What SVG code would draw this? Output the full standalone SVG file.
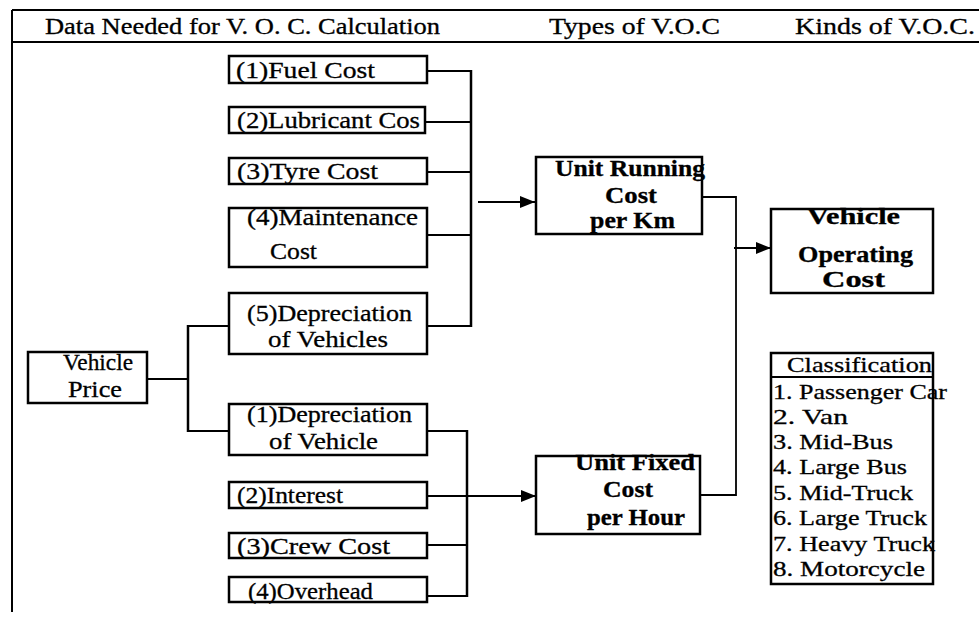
<svg xmlns="http://www.w3.org/2000/svg" width="979" height="619" viewBox="0 0 979 619">
<defs>
<style>
.bx{fill:#fff;stroke:#000;stroke-width:2.5}
.ln{fill:none;stroke:#000;stroke-width:1.8}
.bus{fill:none;stroke:#000;stroke-width:2.5}
.fr{fill:none;stroke:#000;stroke-width:2}
text{font-family:"Liberation Serif","Times New Roman",serif;fill:#000;stroke:#000;stroke-width:0.3}
.h{font-size:23px}
.t{font-size:23px}
.b{font-size:23px;font-weight:bold}
.c{font-size:22px}
</style>
<marker id="ar" markerWidth="16" markerHeight="12" refX="15" refY="6" orient="auto" markerUnits="userSpaceOnUse">
<path d="M0,0 L15,6 L0,12 Z" fill="#000"/>
</marker>
</defs>
<rect width="979" height="619" fill="#fff"/>
<g id="frame">
<path class="fr" d="M12,10 H979 M12,42 H979 M12,10 V612"/>
<text class="h" x="45" y="34" textLength="395" lengthAdjust="spacingAndGlyphs">Data Needed for V. O. C. Calculation</text>
<text class="h" x="549" y="34" textLength="171" lengthAdjust="spacingAndGlyphs">Types of V.O.C</text>
<text class="h" x="795" y="34" textLength="180" lengthAdjust="spacingAndGlyphs">Kinds of V.O.C.</text>
</g>
<g id="connectors">
<path class="ln" d="M427,71 H471 M425,122 H471 M427,172 H471 M427,235 H471 M427,326 H471"/>
<path class="bus" d="M471,70 V327"/>
<path class="ln" d="M478,202 H535" marker-end="url(#ar)"/>
<path class="ln" d="M147,379 H188 M188,326 H229 M188,431 H229"/>
<path class="bus" d="M188,325 V432"/>
<path class="ln" d="M427,431 H467 M427,545 H467 M427,596 H467"/>
<path class="bus" d="M467,430 V597"/>
<path class="ln" d="M427,496 H536" marker-end="url(#ar)"/>
<path class="ln" d="M702,197 H736 V495 H700"/>
<path class="ln" d="M734,248 H771" marker-end="url(#ar)"/>
</g>
<g id="fuel"><rect class="bx" x="229" y="56" width="198" height="27"/><text class="t" x="236" y="78" textLength="139" lengthAdjust="spacingAndGlyphs">(1)Fuel Cost</text></g>
<g id="lubricant"><rect class="bx" x="229" y="107" width="196" height="26"/><text class="t" x="237" y="128" textLength="183" lengthAdjust="spacingAndGlyphs">(2)Lubricant Cos</text></g>
<g id="tyre"><rect class="bx" x="229" y="158" width="198" height="26"/><text class="t" x="237" y="179" textLength="141" lengthAdjust="spacingAndGlyphs">(3)Tyre Cost</text></g>
<g id="maintenance"><rect class="bx" x="229" y="208" width="198" height="59"/><text class="t" x="247" y="225" textLength="171" lengthAdjust="spacingAndGlyphs">(4)Maintenance</text><text class="t" x="270" y="259" textLength="47" lengthAdjust="spacingAndGlyphs">Cost</text></g>
<g id="depreciation5"><rect class="bx" x="229" y="293" width="198" height="61"/><text class="t" x="247" y="321" textLength="165" lengthAdjust="spacingAndGlyphs">(5)Depreciation</text><text class="t" x="268" y="347" textLength="120" lengthAdjust="spacingAndGlyphs">of Vehicles</text></g>
<g id="vehicle-price"><rect class="bx" x="28" y="352" width="119" height="51"/><text class="t" x="63" y="370" textLength="70" lengthAdjust="spacingAndGlyphs">Vehicle</text><text class="t" x="68" y="397" textLength="54" lengthAdjust="spacingAndGlyphs">Price</text></g>
<g id="depreciation1"><rect class="bx" x="229" y="404" width="198" height="51"/><text class="t" x="247" y="422" textLength="165" lengthAdjust="spacingAndGlyphs">(1)Depreciation</text><text class="t" x="269" y="449" textLength="109" lengthAdjust="spacingAndGlyphs">of Vehicle</text></g>
<g id="interest"><rect class="bx" x="229" y="482" width="198" height="26"/><text class="t" x="237" y="503" textLength="106" lengthAdjust="spacingAndGlyphs">(2)Interest</text></g>
<g id="crew"><rect class="bx" x="229" y="533" width="198" height="25"/><text class="t" x="237" y="554" textLength="153" lengthAdjust="spacingAndGlyphs">(3)Crew Cost</text></g>
<g id="overhead"><rect class="bx" x="229" y="577" width="198" height="25"/><text class="t" x="248" y="599" textLength="125" lengthAdjust="spacingAndGlyphs">(4)Overhead</text></g>
<g id="unit-running"><rect class="bx" x="536" y="157" width="166" height="77"/><text class="b" x="555" y="176" textLength="150" lengthAdjust="spacingAndGlyphs">Unit Running</text><text class="b" x="605" y="203" textLength="52" lengthAdjust="spacingAndGlyphs">Cost</text><text class="b" x="590" y="228" textLength="85" lengthAdjust="spacingAndGlyphs">per Km</text></g>
<g id="unit-fixed"><rect class="bx" x="536" y="456" width="164" height="78"/><text class="b" x="575" y="470" textLength="120" lengthAdjust="spacingAndGlyphs">Unit Fixed</text><text class="b" x="603" y="497" textLength="50" lengthAdjust="spacingAndGlyphs">Cost</text><text class="b" x="587" y="525" textLength="98" lengthAdjust="spacingAndGlyphs">per Hour</text></g>
<g id="voc"><rect class="bx" x="771" y="209" width="162" height="84"/><text class="b" x="807" y="224" textLength="93" lengthAdjust="spacingAndGlyphs">Vehicle</text><text class="b" x="798" y="262" textLength="115" lengthAdjust="spacingAndGlyphs">Operating</text><text class="b" x="822" y="287" textLength="63" lengthAdjust="spacingAndGlyphs">Cost</text></g>
<g id="classification">
<rect class="bx" x="771" y="353" width="162" height="231"/>
<path class="fr" d="M771,377 H933"/>
<text class="c" x="787" y="372" textLength="145" lengthAdjust="spacingAndGlyphs">Classification</text>
<text class="c" x="773" y="399" textLength="174" lengthAdjust="spacingAndGlyphs">1. Passenger Car</text>
<text class="c" x="773" y="424" textLength="75" lengthAdjust="spacingAndGlyphs">2. Van</text>
<text class="c" x="773" y="449" textLength="120" lengthAdjust="spacingAndGlyphs">3. Mid-Bus</text>
<text class="c" x="773" y="474" textLength="134" lengthAdjust="spacingAndGlyphs">4. Large Bus</text>
<text class="c" x="773" y="500" textLength="140" lengthAdjust="spacingAndGlyphs">5. Mid-Truck</text>
<text class="c" x="773" y="525" textLength="154" lengthAdjust="spacingAndGlyphs">6. Large Truck</text>
<text class="c" x="773" y="551" textLength="162" lengthAdjust="spacingAndGlyphs">7. Heavy Truck</text>
<text class="c" x="773" y="576" textLength="152" lengthAdjust="spacingAndGlyphs">8. Motorcycle</text>
</g>
</svg>
